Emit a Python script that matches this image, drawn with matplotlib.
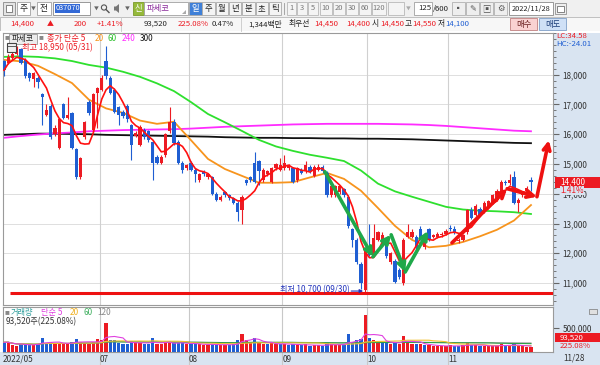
import numpy as np
import pandas as pd
import matplotlib
matplotlib.use("Agg")
from matplotlib import pyplot as plt
from matplotlib.patches import Rectangle, Circle, Polygon
from matplotlib.ticker import MultipleLocator, FuncFormatter

plt.rcParams['font.family'] = ['Noto Sans CJK KR', 'DejaVu Sans']
plt.rcParams['axes.unicode_minus'] = False

# daily bars, 파세코 (037070), 2022/05/26 .. 2022/11/28
opens = [18450, 18400, 18550, 18700, 18850, 18500, 18050, 17850, 17900, 17350,
         16650, 16950, 16000, 15550, 17000, 16550, 16700, 15500, 14550, 15900,
         17100, 16150, 17400, 17500, 18450, 17900, 17500, 16900, 16750, 16950,
         16300, 15950, 15650, 16150, 16100, 15750, 15250, 15050, 15300, 16100,
         16400, 15750, 15050, 14850, 15050, 14800, 14450, 14750, 14550, 14550,
         14000, 13800, 14050, 13950, 13850, 13700, 13450, 14450, 14550, 15050,
         15100, 14450, 14650, 14400, 14850, 14800, 14850, 14850, 14850, 14450,
         14800, 14750, 14900, 14600, 14800, 14900, 14700, 13950, 13950, 14050,
         14150, 13900, 12800, 12450, 11650, 10750, 12150, 11950, 12450, 12450,
         12400, 11700, 11750, 11450, 11000, 12550, 12550, 12550, 12800, 12200,
         12800, 12550, 12550, 12600, 12650, 12850, 12800, 12400, 12450, 12700,
         13450, 13300, 13500, 13400, 13550, 13700, 13800, 13900, 14400, 14350,
         14550, 13700, 13950, 14100, 14450]
highs = [18500, 18700, 18800, 18950, 18900, 18550, 18100, 18100, 17950, 17400,
         17000, 17000, 16300, 16550, 17050, 17250, 16750, 15550, 15250, 16450,
         17150, 17400, 17600, 18000, 18950, 17950, 17550, 16950, 16800, 17000,
         16350, 16100, 16300, 16200, 16150, 15800, 15300, 15300, 16050, 16900,
         16500, 15800, 15100, 15000, 15100, 14850, 14700, 14800, 14700, 14600,
         14050, 13950, 14100, 14000, 13900, 13750, 13950, 14500, 14600, 15400,
         15150, 14850, 14800, 14900, 15050, 15200, 15300, 15000, 14900, 14900,
         14850, 15100, 14950, 14950, 15000, 14950, 14750, 14300, 14300, 14300,
         14200, 13950, 12850, 12500, 11700, 12200, 13000, 13000, 12750, 12700,
         12450, 12050, 11800, 11500, 12500, 13000, 12800, 12600, 12900, 12500,
         12850, 12650, 12700, 12700, 12800, 12950, 12900, 12500, 12650, 13500,
         13550, 13650, 13550, 13750, 13800, 14000, 14150, 14450, 14450, 14650,
         14750, 13850, 14100, 14250, 14550]
lows = [17950, 18350, 18500, 18650, 18350, 17900, 17800, 17600, 17550, 16300,
        16600, 15850, 15950, 15500, 16500, 16500, 15500, 14500, 14500, 15850,
        16650, 16100, 16200, 17450, 17850, 17350, 16700, 16300, 16550, 16400,
        15150, 15900, 15600, 15850, 15750, 14450, 15000, 15000, 15250, 16050,
        15650, 15000, 14700, 14800, 14750, 14400, 14400, 14600, 14500, 13950,
        13750, 13750, 13900, 13800, 13650, 13100, 13000, 14300, 14400, 14350,
        14300, 14400, 14600, 14350, 14800, 14750, 14800, 14800, 14350, 14400,
        14650, 14700, 14700, 14550, 14750, 14700, 13900, 13900, 13900, 14000,
        13900, 12850, 12200, 11650, 10800, 10700, 11900, 11900, 12400, 12400,
        11850, 11650, 11000, 11150, 10950, 12500, 12500, 12150, 12450, 12150,
        12400, 12500, 12500, 12550, 12600, 12750, 12650, 12350, 12400, 12650,
        13150, 13250, 13250, 13350, 13500, 13650, 13750, 13850, 14300, 14300,
        13650, 13400, 13900, 14050, 14100]
closes = [18150, 18600, 18700, 18900, 18400, 17950, 17900, 18050, 17750, 17250,
          16800, 15900, 16200, 16500, 16550, 16650, 15550, 14550, 15200, 16400,
          16700, 17350, 17550, 17900, 17950, 17400, 16750, 16650, 16600, 16500,
          15650, 16050, 16250, 15900, 15800, 15050, 15050, 15250, 16000, 16400,
          15700, 15050, 14800, 14950, 14800, 14650, 14650, 14650, 14650, 14000,
          13800, 13900, 13950, 13850, 13700, 13400, 13900, 14350, 14450, 14400,
          14750, 14800, 14750, 14850, 15000, 14950, 15050, 14950, 14400, 14850,
          14700, 14950, 14750, 14900, 14900, 14750, 13950, 14250, 14250, 14250,
          13950, 12900, 12450, 11700, 11000, 12150, 11950, 12500, 12700, 12600,
          11900, 12000, 11050, 11200, 12450, 12700, 12700, 12200, 12500, 12450,
          12450, 12600, 12650, 12650, 12750, 12800, 12700, 12450, 12600, 13450,
          13200, 13600, 13300, 13700, 13750, 13950, 14100, 14400, 14350, 14450,
          13700, 13800, 14050, 14200, 14400]
volumes = [195, 200, 130, 125, 150, 145, 160, 130, 170, 285,
           180, 200, 160, 180, 170, 160, 210, 265, 200, 185,
           170, 210, 260, 245, 600, 250, 245, 180, 170, 160,
           215, 205, 180, 160, 150, 285, 170, 160, 190, 185,
           175, 190, 180, 150, 160, 170, 150, 140, 130, 170,
           150, 130, 140, 135, 150, 250, 365, 250, 210, 285,
           180, 170, 150, 180, 160, 150, 170, 130, 160, 140,
           130, 150, 120, 140, 130, 120, 180, 150, 140, 130,
           140, 365, 210, 250, 265, 770, 285, 235, 210, 190,
           200, 160, 200, 170, 330, 210, 170, 160, 150, 140,
           130, 120, 110, 120, 110, 130, 120, 110, 130, 175,
           140, 130, 110, 120, 110, 120, 130, 155, 120, 130,
           150, 120, 110, 100, 93.52]
volumes = [vv * 1000 for vv in volumes]

month_pos = [-0.2, 22.5, 43.5, 65.5, 85.5, 104.5]
month_labels = ["2022/05", "07", "08", "09", "10", "11"]

# long moving averages, every 4th bar
ma_bars = list(range(0, 125, 4))
ma20 = [18500, 18450, 18300, 18020, 17720, 17160, 16870, 16720, 16460, 16350,
        16420, 15800, 15170, 14830, 14600, 14370, 14370, 14390, 14550, 14700,
        14500, 14100, 13520, 12920, 12450, 12200, 12250, 12380, 12570, 12790,
        13100, 13620]
ma60 = [18600, 18620, 18600, 18550, 18460, 18330, 18240, 18100, 17930, 17710,
        17450, 17080, 16680, 16400, 16110, 15810, 15590, 15440, 15310, 15210,
        15100, 14780, 14340, 14080, 13900, 13730, 13560, 13470, 13430, 13410,
        13380, 13320]
ma240 = [15880, 15940, 15990, 16030, 16060, 16100, 16120, 16140, 16150, 16160,
         16170, 16190, 16220, 16250, 16270, 16290, 16310, 16330, 16340, 16350,
         16350, 16350, 16350, 16340, 16330, 16310, 16280, 16240, 16200, 16160,
         16120, 16100]
ma300 = [15980, 16000, 16020, 16020, 16010, 16000, 15980, 15970, 15960, 15950,
         15940, 15930, 15920, 15900, 15890, 15880, 15880, 15870, 15870, 15860,
         15860, 15850, 15850, 15840, 15830, 15810, 15790, 15770, 15750, 15730,
         15710, 15700]

# user drawings on the chart (bar, price)
low_price = 10700
low_bar = 85
green_path = [(75.5, 14740), (86.8, 11880), (91.1, 12620), (94.4, 11370), (99.8, 12750)]
red_path = [(105.4, 12350), (118.4, 14170), (125.4, 13900), (128.2, 15800)]

RED = '#ec1b23'
BLUE = '#1f5ed2'
LBLUE = '#d9e4f1'
FS = 5.6    # info row numbers
FA = 5.9    # axis labels

W, H = 600, 365
fig = plt.figure(figsize=(6, 3.65), dpi=100)
fig.patch.set_facecolor('#ececec')


def px_axes(x, y, w, h, **kw):
    return fig.add_axes([x / W, 1 - (y + h) / H, w / W, h / H], **kw)


def overlay(z):
    a = fig.add_axes([0, 0, 1, 1], zorder=z)
    a.set_xlim(0, W)
    a.set_ylim(H, 0)
    a.axis('off')
    a.patch.set_alpha(0)
    return a


ui_bg = overlay(-5)
ui = overlay(20)


def rect(a, x, y, w, h, fc, ec='none', lw=0.6):
    a.add_patch(Rectangle((x, y), w, h, facecolor=fc, edgecolor=ec, lw=lw))


def txt(a, x, y, s, c='#222222', size=FS, ha='left', **kw):
    a.text(x, y, s, color=c, fontsize=size, ha=ha, va='center', **kw)


# backgrounds
rect(ui_bg, 0, 0, W, 17, '#f0f0f0')
rect(ui_bg, 0, 17, W, 14, '#f7f7f7', '#b8b8b8', 0.6)
rect(ui_bg, 0, 31, W, 334, '#ffffff')
rect(ui_bg, 553, 33, 47, 332, LBLUE)
rect(ui_bg, 0, 352, W, 13, LBLUE)

# ---- price panel ----
idx = np.arange(len(closes))
o = np.array(opens, float)
h = np.array(highs, float)
l = np.array(lows, float)
c = np.array(closes, float)
v = np.array(volumes, float)

ax = px_axes(3, 33, 550, 272)
ax.set_xlim(-0.235, 129.18)
ax.set_ylim(10261, 19403)
for y in range(11000, 19000, 1000):
    ax.axhline(y, color='#dedede', lw=0.7, zorder=0)
for x in month_pos[1:]:
    ax.axvline(x, color='#d0d0d0', lw=0.8, zorder=0)

ax.plot(ma_bars, ma300, color='#111111', lw=1.3, zorder=2)
ax.plot(ma_bars, ma240, color='#ff2cff', lw=1.3, zorder=2)
ax.plot(ma_bars, ma60, color='#2ee02e', lw=1.3, zorder=2)
ax.plot(ma_bars, ma20, color='#f7941d', lw=1.3, zorder=2)

up = c >= o
col = np.where(up, RED, BLUE)
ax.vlines(idx, l, h, colors=col, lw=0.8, zorder=3)
ax.bar(idx, np.maximum(np.abs(c - o), 30), bottom=np.minimum(o, c), width=0.72,
       color=col, linewidth=0, zorder=4)

ma5 = pd.Series(c).rolling(5, min_periods=1).mean()
ax.plot(idx, ma5, color='#ff1010', lw=1.2, zorder=5)

# low line + label
ax.hlines(low_price - 20, 1.4, 129.2, color='#ee1111', lw=2.2, zorder=6)
ax.annotate('', xy=(low_bar - 0.5, low_price + 30), xytext=(low_bar - 3.3, low_price + 30),
            arrowprops=dict(arrowstyle='-|>', color='#2233bb', lw=0.8, mutation_scale=5,
                            shrinkA=0, shrinkB=0), zorder=7)
ax.text(low_bar - 3.6, low_price + 60, '최저 10,700 (09/30)', color='#2233bb',
        fontsize=5.8, ha='right', va='center', zorder=7)

for path, colr in ((green_path, '#1fa84a'), (red_path, '#ee1111')):
    for (x0, y0), (x1, y1) in zip(path[:-1], path[1:]):
        ax.annotate('', xy=(x1, y1), xytext=(x0, y0),
                    arrowprops=dict(arrowstyle='->', color=colr, lw=2.6,
                                    mutation_scale=12, shrinkA=0, shrinkB=0),
                    zorder=8)

ax.yaxis.tick_right()
ax.set_yticks(range(11000, 19000, 1000))
ax.yaxis.set_major_formatter(FuncFormatter(lambda y, p: f'{int(y):,}'))
ax.yaxis.set_minor_locator(MultipleLocator(200))
ax.tick_params(axis='y', which='major', direction='out', length=4, pad=3,
               labelsize=FA, colors='#666666', labelcolor='#333333')
ax.tick_params(axis='y', which='minor', direction='out', length=2, colors='#666666')
ax.set_xticks([])
for s in ax.spines.values():
    s.set_color('#9a9a9a')
    s.set_linewidth(0.8)

# ---- volume panel ----
vax = px_axes(3, 307, 550, 44.5)
vax.set_xlim(-0.235, 129.18)
vax.set_ylim(0, 946800)
prev = np.concatenate([[o[0]], c[:-1]])
vcol = np.where(c >= prev, RED, BLUE)
vax.bar(idx, v, width=0.72, color=vcol, linewidth=0, zorder=3)
vs = pd.Series(v)
for n, colr in ((120, '#9a9a9a'), (60, '#2ea04a'), (20, '#f2c12e'), (5, '#e040e0')):
    vax.plot(idx, vs.rolling(n, min_periods=1).mean(), color=colr, lw=0.8, zorder=4)
for x in month_pos[1:]:
    vax.axvline(x, ymin=-0.31, ymax=1, color='#c8c8c8', lw=0.8, zorder=0, clip_on=False)
vax.yaxis.tick_right()
vax.set_yticks([500000])
vax.yaxis.set_major_formatter(FuncFormatter(lambda y, p: f'{int(y):,}'))
vax.tick_params(axis='y', direction='out', length=4, pad=3, labelsize=FA,
                colors='#666666', labelcolor='#333333')
vax.set_xticks(month_pos)
vax.set_xticklabels(month_labels)
vax.tick_params(axis='x', length=0, pad=2.5, labelsize=FA, labelcolor='#333333')
for t in vax.get_xticklabels():
    t.set_horizontalalignment('left')
for s in vax.spines.values():
    s.set_color('#9a9a9a')
    s.set_linewidth(0.8)

# ---- toolbar row 1 ----
rect(ui, 3, 2, 12, 13, '#e4e4e4', '#8a8a8a')
rect(ui, 6, 5, 6, 7, '#ffffff', '#555555', 0.5)
for x0, x1, s in ((17, 30, '주'), (37, 51, '전')):
    rect(ui, x0, 2, x1 - x0, 13, '#ffffff', '#a0a0a0')
    txt(ui, (x0 + x1) / 2, 8.5, s, size=6.3, ha='center')
txt(ui, 33, 8.5, '▼', c='#666666', size=3.5, ha='center')
rect(ui, 53, 2, 37, 13, '#ffffff', '#8a8a8a')
rect(ui, 55, 4, 25, 9, '#3369d6')
txt(ui, 67.5, 8.5, '037070', c='#ffffff', size=5.3, ha='center')
txt(ui, 96, 8.5, '▼', c='#666666', size=3.5, ha='center')
ui.add_patch(Circle((104, 7.5), 2.6, fill=False, ec='#555555', lw=0.8))
ui.plot([106, 109], [9.5, 12.5], color='#555555', lw=1)
ui.add_patch(Polygon([[114, 6.5], [116, 6.5], [119, 4], [119, 13], [116, 10.5], [114, 10.5]],
                     closed=True, fc='#777777', ec='none'))
txt(ui, 127, 8.5, '▼', c='#666666', size=3.5, ha='center')
rect(ui, 133, 2, 11, 13, '#95b93a', '#7a9a2a')
txt(ui, 138.5, 8.5, '신', c='#ffffff', size=6.0, ha='center')
rect(ui, 144, 2, 44, 13, '#ffffff', '#a0a0a0')
txt(ui, 147, 8.5, '파세코', c='#8a2a9a', size=6.0)
ui.add_patch(Polygon([[186, 14], [186, 10], [182, 14]], closed=True, fc='#aaaaaa', ec='none'))
periods = ['일', '주', '월', '년', '분', '초', '틱']
px0 = 189
for i, s in enumerate(periods):
    x0 = px0 + i * 13.3
    fc = '#3f80d8' if i == 0 else '#f4f4f4'
    rect(ui, x0, 2, 12.5, 13, fc, '#a8a8a8')
    txt(ui, x0 + 6.2, 8.5, s, c='#ffffff' if i == 0 else '#222222', size=6.0, ha='center')
ui.plot([284, 284], [3, 14], color='#999999', lw=0.6)
nums = ['1', '3', '5', '10', '20', '30', '60', '120']
nx = [287, 297, 308, 320, 333, 346, 359, 372]
nw = [9, 10, 10, 12, 12, 12, 12, 14]
for s, x0, w in zip(nums, nx, nw):
    rect(ui, x0, 2, w, 13, '#f4f4f4', '#b8b8b8')
    txt(ui, x0 + w / 2, 8.5, s, c='#777777', size=5.4, ha='center')
rect(ui, 388, 2, 16, 13, '#f4f4f4', '#b8b8b8')
txt(ui, 408, 8.5, '▼', c='#aaaaaa', size=3.5, ha='center')
rect(ui, 414, 2, 18, 13, '#ffffff', '#a0a0a0')
txt(ui, 431, 8.5, '125', size=FS, ha='right')
txt(ui, 432.5, 8.5, '/600', size=FS)
for k, g in enumerate(['▪', '✎', '▣', '⚙']):
    rect(ui, 452 + k * 14, 2, 13, 13, '#eeeeee', '#b0b0b0')
    txt(ui, 458.5 + k * 14, 8.5, g, c='#555555', size=6.0, ha='center')
rect(ui, 509, 2, 44, 13, '#ffffff', '#8a8a8a')
txt(ui, 531, 8.5, '2022/11/28', size=5.3, ha='center')
rect(ui, 555, 3, 11, 11, '#eeeeee', '#909090')
rect(ui, 557, 6, 7, 6, '#ffffff', '#555555', 0.5)

# ---- toolbar row 2 ----
ry = 24
txt(ui, 10, ry, '14,400', c=RED)
txt(ui, 47, ry, '▲', c=RED, size=5.0)
txt(ui, 87, ry, '200', c=RED, ha='right')
txt(ui, 97, ry, '+1.41%', c=RED)
ui.plot([121, 121], [17, 31], color='#c8c8c8', lw=0.6)
txt(ui, 167, ry, '93,520', ha='right')
txt(ui, 178, ry, '225.08%', c=RED)
txt(ui, 212, ry, '0.47%')
ui.plot([241, 241], [17, 31], color='#c8c8c8', lw=0.6)
txt(ui, 248, ry, '1,344백만')
txt(ui, 289, ry, '최우선')
txt(ui, 314, ry, '14,450', c=RED)
txt(ui, 346, ry, '14,400', c=RED)
txt(ui, 372, ry, '시')
txt(ui, 380, ry, '14,450', c=RED)
txt(ui, 405, ry, '고')
txt(ui, 412, ry, '14,550', c=RED)
txt(ui, 438, ry, '저')
txt(ui, 445, ry, '14,100', c=BLUE)
rect(ui, 510, 18, 27, 12, '#f9d2d2', '#c08080')
txt(ui, 523.5, ry, '매수', c='#6a2020', size=6.0, ha='center')
rect(ui, 539, 18, 27, 12, '#cfe0f6', '#7f9fc8')
txt(ui, 552.5, ry, '매도', c='#1f3f7a', size=6.0, ha='center')

# ---- chart headers ----
txt(ui, 5, 38, '■', c='#888888', size=3.5)
rect(ui, 9, 33.5, 28, 10, '#ececec', '#9a9a9a')
txt(ui, 23, 38.5, '파세코', size=5.8, ha='center')
txt(ui, 39, 38, '■', c='#888888', size=3.5)
heads = [('종가 단순 5', RED, 47), ('20', '#f7941d', 95), ('60', '#2ec02e', 108),
         ('240', '#ff2cff', 122), ('300', '#111111', 140)]
for s, colr, x0 in heads:
    txt(ui, x0, 38.5, s, c=colr, size=5.9)
rect(ui, 7, 43, 9, 9, '#f0f0f0', '#444444', 0.8)
ui.plot([7, 16], [45.5, 45.5], color='#444444', lw=0.6)
txt(ui, 22, 47.5, '최고 18,950 (05/31)', c=RED, size=5.9)

txt(ui, 556, 36, 'LC:34.58', c=RED, size=5.6)
txt(ui, 556, 44, 'HC:-24.01', c=BLUE, size=5.6)
rect(ui, 555, 176.5, 45, 11, RED)
txt(ui, 560, 182, '14,400', c='#ffffff', size=FA)
txt(ui, 560, 190.5, '1.41%', c=RED, size=FA,
    bbox=dict(boxstyle='square,pad=0.05', fc=LBLUE, ec='none'))

txt(ui, 5, 312.5, '■', c='#888888', size=3.5)
vheads = [('거래량', '#2a9d9a', 11), ('단순 5', '#e040e0', 41), ('20', '#f0b020', 70),
          ('60', '#40b060', 83), ('120', '#888888', 97)]
for s, colr, x0 in vheads:
    txt(ui, x0, 312.5, s, c=colr, size=5.9)
txt(ui, 6, 321.5, '93,520주(225.08%)', c='#333333', size=5.9)
rect(ui, 589, 309, 8, 5, '#e0e0e0', '#777777', 0.5)
rect(ui, 555, 333, 45, 8.5, RED)
txt(ui, 560, 337.2, '93,520', c='#ffffff', size=5.6)
txt(ui, 560, 345.5, '225.08%', c=RED, size=5.6)
txt(ui, 563, 358, '11/28', c='#333333', size=FA)

fig.savefig('out.png', dpi=100, facecolor=fig.get_facecolor())
